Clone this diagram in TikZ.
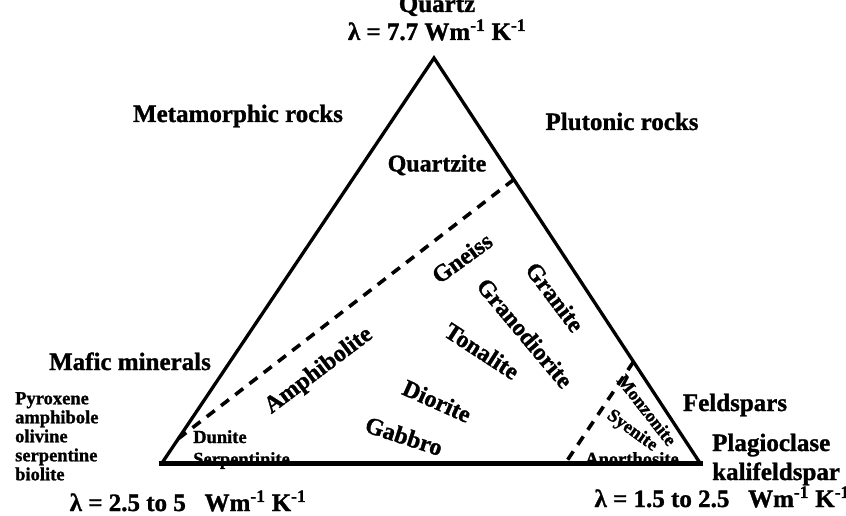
\documentclass[tikz,border=0pt]{standalone}
\usepackage{fontspec}
\setmainfont[BoldFeatures={FakeBold=1.2}]{Liberation Serif}
\usetikzlibrary{calc}

\begin{document}
\begin{tikzpicture}[x=1pt,y=-1pt,
  side/.style={line width=3.3pt,line join=miter},
  base/.style={line width=5pt},
  split/.style={line width=3.6pt,dash pattern=on 10pt off 8pt},
  lbl/.style={font=\fontsize{25}{27}\selectfont\bfseries,inner sep=0pt},
  rock/.style={font=\fontsize{24}{26}\selectfont\bfseries,inner sep=0pt},
  minor/.style={font=\fontsize{18.5}{19}\selectfont\bfseries,inner sep=0pt}]
\useasboundingbox (0,0) rectangle (846,516);
% corners of the triangle
\coordinate (qz) at (434,58);
\coordinate (mf) at (162,463);
\coordinate (fs) at (700,463);
% ends of the dashed limits
\coordinate (meta) at ($(qz)!0.3!(fs)$);
\coordinate (dun) at ($(mf)!0.06!(qz)$);
\coordinate (mon) at ($(qz)!0.75!(fs)$);
\coordinate (ano) at ($(mf)!0.75!(fs)$);
% rock names inside
\node[rock] at (437,165) (qtz) {Quartzite};
\node[rock,rotate=36] at (462,258) (gns) {Gneiss};
\node[rock,rotate=-53] at (555,297) (gra) {Granite};
\node[rock,rotate=-50] at (525,333) (grd) {Granodiorite};
\node[rock,rotate=-33] at (482,351) (ton) {Tonalite};
\node[rock,rotate=-24] at (437,401) (dio) {Diorite};
\node[rock,rotate=-18] at (404,436) (gab) {Gabbro};
\node[rock,rotate=37] at (319,371) (amp) {Amphibolite};
\node[minor,anchor=base west] at (193,443) (dnt) {Dunite};
\node[minor,anchor=base west] at (193,465) (srp) {Serpentinite};
\node[minor,rotate=-52] at (647,410) (mzn) {Monzonite};
\node[minor,rotate=-36] at (632,431) (sye) {Syenite};
\node[minor,anchor=base] at (632,465) (ant) {Anorthosite};
% triangle and limits
\draw[side] (mf) -- (qz) -- (fs);
\draw[base] ($(mf)+(-3,0)$) -- ($(fs)+(3,0)$);
\draw[split] (meta) -- (dun);
\draw[split] (mon) -- (ano);
% poles
\node[lbl,anchor=base] at (437,12) (qzn) {Quartz};
\node[lbl,anchor=base] at (437,40) (qzl) {λ = 7.7 Wm\textsuperscript{-1} K\textsuperscript{-1}};
\node[lbl,anchor=base] at (238,122) (met) {Metamorphic rocks};
\node[lbl,anchor=base] at (622,130) (plu) {Plutonic rocks};
\node[lbl,anchor=base] at (130,370) (maf) {Mafic minerals};
\node[minor,anchor=north west,align=left] at (15,392) (mfl)
  {Pyroxene\\amphibole\\olivine\\serpentine\\biolite};
\node[lbl,anchor=base] at (188,511) (mfk) {λ = 2.5 to 5~~ Wm\textsuperscript{-1} K\textsuperscript{-1}};
\node[lbl,anchor=base] at (735,411) (fld) {Feldspars};
\node[lbl,anchor=base west] at (712,451) (plg) {Plagioclase};
\node[lbl,anchor=base west] at (712,480) (kfs) {kalifeldspar};
\node[lbl,anchor=base east] at (850,507) (fsk) {λ = 1.5 to 2.5~~ Wm\textsuperscript{-1} K\textsuperscript{-1}};
\end{tikzpicture}
\end{document}
